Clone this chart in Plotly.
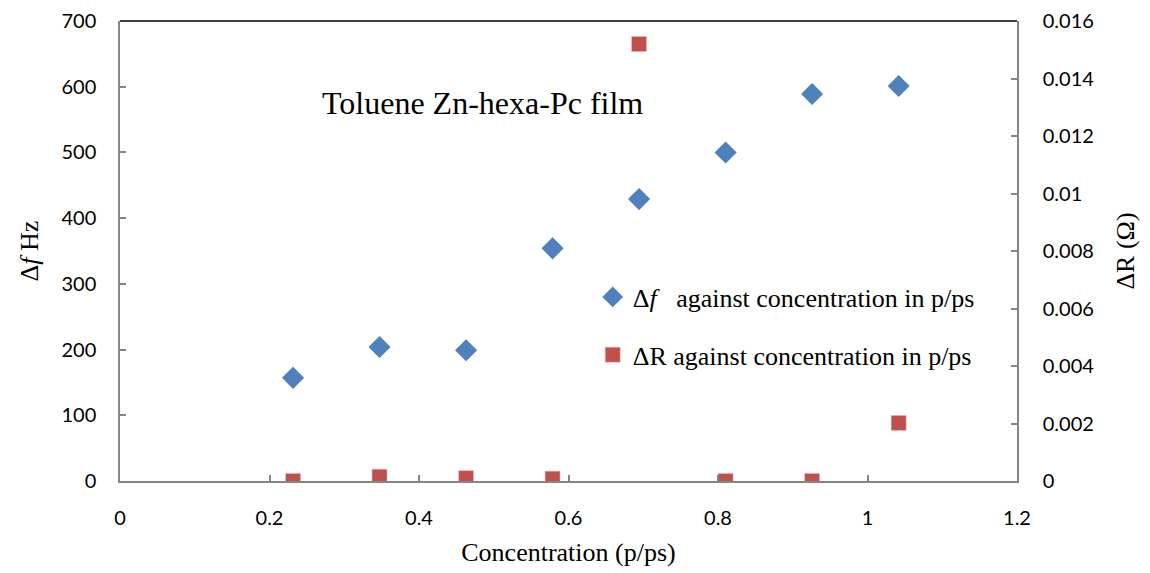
import plotly.graph_objects as go

conc = [0.2315, 0.3472, 0.4630, 0.5787, 0.6944, 0.8102, 0.9259, 1.0417]
delta_f = [157, 204, 199, 354, 429, 500, 589, 601]
delta_r = [0.0, 0.00015, 0.0001, 0.00008, 0.0152, 0.0, 0.0, 0.00202]

x_ticks = [0, 0.2, 0.4, 0.6, 0.8, 1, 1.2]
x_ticktext = ["0", "0.2", "0.4", "0.6", "0.8", "1", "1.2"]
yl_ticks = [0, 100, 200, 300, 400, 500, 600, 700]
yr_ticks = [0, 0.002, 0.004, 0.006, 0.008, 0.01, 0.012, 0.014, 0.016]
yr_ticktext = ["0", "0.002", "0.004", "0.006", "0.008", "0.01", "0.012", "0.014", "0.016"]

BLUE = "#4F81BD"
RED = "#C0504D"
AXIS = "#868686"
TICKFONT = dict(family="Lato, Carlito, Calibri, sans-serif", size=20, color="#000000")
SERIF = "Liberation Serif, Times New Roman, serif"

fig = go.Figure()
fig.add_trace(go.Scatter(
    x=conc, y=delta_f, mode="markers", yaxis="y",
    name="Δ<i>f</i>\u00a0\u00a0\u00a0against concentration in p/ps",
    legendgroup="a",
    marker=dict(symbol="diamond", size=17, color=BLUE, line=dict(width=0)),
))
fig.add_trace(go.Scatter(
    x=conc, y=delta_r, mode="markers", yaxis="y2",
    name="ΔR against concentration in p/ps",
    legendgroup="b",
    marker=dict(symbol="square", size=15, color=RED, line=dict(width=0.5, color="#e8c0bf")),
))

fig.update_layout(
    width=1150, height=573,
    margin=dict(l=112, r=141, t=13, b=100, autoexpand=False),
    paper_bgcolor="white", plot_bgcolor="white",
    showlegend=True,
    legend=dict(
        x=0.527, y=0.451, xanchor="left", yanchor="top",
        font=dict(family=SERIF, size=26, color="#000000"),
        bgcolor="rgba(0,0,0,0)", tracegroupgap=21, itemwidth=30,
    ),
    xaxis=dict(
        range=[0, 1.2], tickvals=x_ticks, ticktext=x_ticktext, automargin=False,
        showgrid=False, zeroline=False, showline=True, linecolor=AXIS, linewidth=1.5,
        ticks="inside", ticklen=6, tickcolor=AXIS, tickwidth=1.5,
        tickfont=TICKFONT, ticklabelstandoff=18,
        title=dict(text="Concentration (p/ps)", font=dict(family=SERIF, size=26, color="#000000"), standoff=15),
    ),
    yaxis=dict(
        range=[0, 700], tickvals=yl_ticks, automargin=False,
        showgrid=False, zeroline=False, showline=True, linecolor=AXIS, linewidth=1.5,
        ticks="inside", ticklen=6, tickcolor=AXIS, tickwidth=1.5,
        tickfont=TICKFONT, ticklabelstandoff=18,
        title=dict(text="Δ<i>f</i> Hz", font=dict(family=SERIF, size=26, color="#000000"), standoff=15),
    ),
    yaxis2=dict(
        range=[0, 0.016], tickvals=yr_ticks, ticktext=yr_ticktext, automargin=False,
        overlaying="y", side="right", anchor="x",
        showgrid=False, zeroline=False, showline=True, linecolor=AXIS, linewidth=1.5,
        ticks="inside", ticklen=6, tickcolor=AXIS, tickwidth=1.5,
        tickfont=TICKFONT, ticklabelstandoff=20,
        title=dict(text="ΔR (Ω)", font=dict(family=SERIF, size=26, color="#000000"), standoff=23),
    ),
    shapes=[dict(type="line", xref="paper", yref="paper", x0=0, x1=1, y0=1, y1=1,
                 line=dict(color="#000000", width=1.5))],
    annotations=[dict(
        text="Toluene Zn-hexa-Pc film", xref="paper", yref="paper",
        x=0.223, y=0.822, xanchor="left", yanchor="middle", showarrow=False,
        font=dict(family=SERIF, size=32, color="#000000"),
    )],
)

fig.write_html("out.html")
